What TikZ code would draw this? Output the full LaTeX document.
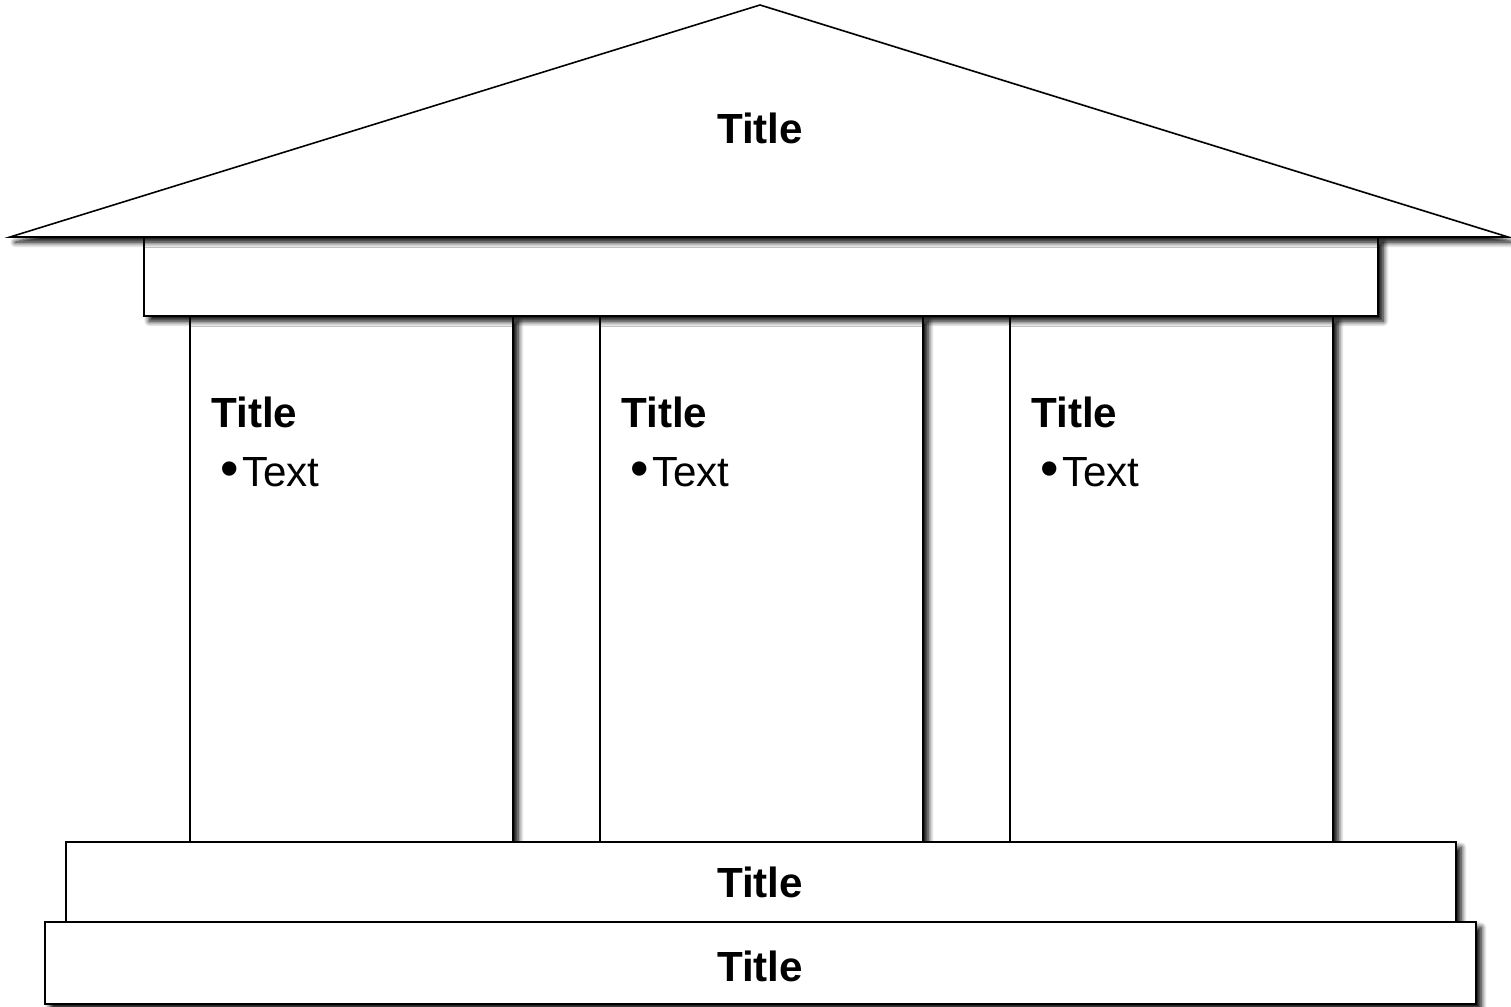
\documentclass[tikz,border=0pt]{standalone}
\usepackage{fontspec}
\setmainfont{Liberation Sans}
\usetikzlibrary{shadows.blur}
\tikzset{
  part/.style={draw=black,line width=1.2pt,fill=white,
    blur shadow={shadow xshift=3pt,shadow yshift=-3pt,
      shadow opacity=100,shadow blur radius=3pt,shadow blur steps=8}},
  roofpart/.style={part,line width=0.9pt,line join=miter},
  heading/.style={font=\fontsize{24}{28}\selectfont\bfseries,inner sep=0pt},
  bullettext/.style={font=\fontsize{24}{28}\selectfont,inner sep=0pt}
}

\begin{document}
\begin{tikzpicture}[x=0.02cm,y=-0.02cm]
  \useasboundingbox (0,0) rectangle (1511,1007);
  % pillars
  \foreach \x/\n in {190/pillarA,600/pillarB,1010/pillarC}
    \draw[part] (\x,316) rectangle ++(323,526);
  % beam and roof
  \draw[part] (144,237) rectangle (1378,316);
  \draw[roofpart] (10,237) -- (760,5) -- (1508,237) -- cycle;
  % steps
  \draw[part] (66,842) rectangle (1456,922);
  \draw[part] (45,922) rectangle (1476,1004);
  % labels
  \node[heading] (rooftitle) at (760,128) {Title};
  \foreach \x/\n in {211/a,621/b,1031/c}{
    \node[heading,anchor=base west] (title\n) at (\x,427) {Title};
    \node[bullettext,anchor=base west] (text\n) at (\x+9,486) {\scalebox{1.25}{•}\hspace{0.08em}Text};
  }
  \node[heading] (steptitle) at (760,882) {Title};
  \node[heading] (basetitle) at (760,966) {Title};
\end{tikzpicture}
\end{document}
